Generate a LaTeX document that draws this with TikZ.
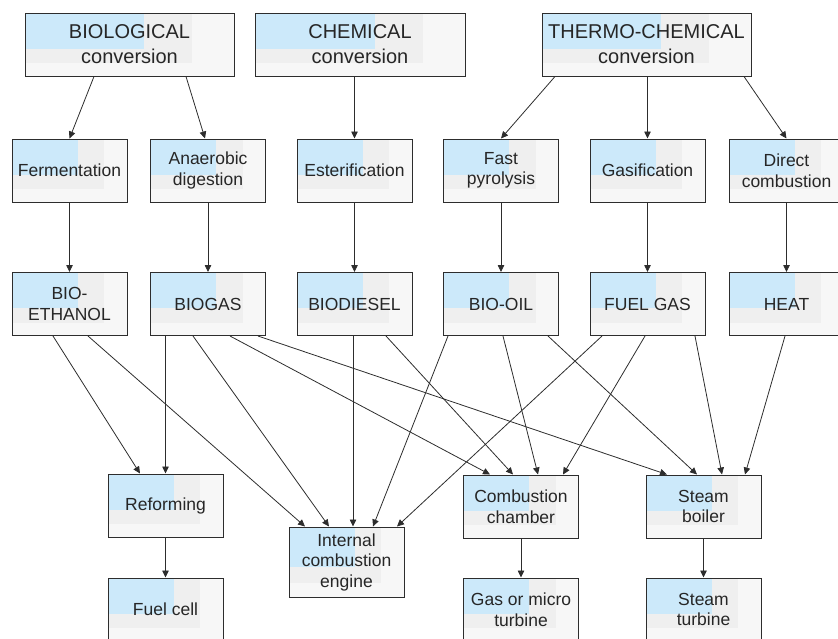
\documentclass[tikz,border=0pt]{standalone}
\usepackage{fontspec}
\setmainfont{Liberation Sans}
\usepackage{tikz}
\usepackage{xcolor}
\usetikzlibrary{arrows.meta,calc}

\definecolor{boxblue}{RGB}{204,233,250}
\definecolor{boxgray}{RGB}{247,247,247}
\definecolor{boxband}{RGB}{239,239,239}
\definecolor{linegray}{RGB}{45,45,45}

\begin{document}
\begin{tikzpicture} [x=1pt, y=-1pt, >={Triangle[length=7pt,width=6.5pt]},
    main/.style = {draw=linegray, line width=1pt, fill=boxgray, text=black!85,
        minimum width=115pt, minimum height=63pt, inner sep=0pt, align=center,
        font=\fontsize{17.5}{20.5}\selectfont,
        path picture={
            \fill[boxband] (path picture bounding box.north west) rectangle
                ($(path picture bounding box.north west)!0.8!(path picture bounding box.south east)$);
            \fill[boxblue] (path picture bounding box.north west) rectangle
                ($(path picture bounding box.north west)!0.57!(path picture bounding box.south east)$);
        }},
    top/.style = {main, minimum width=209pt, font=\fontsize{20}{25}\selectfont},
    conn/.style = {->, draw=linegray, line width=0.8pt}]
    \useasboundingbox (0,0) rectangle (838,638);

    % conversion routes
    \node[top] (bio) at (129.5,44.5) {BIOLOGICAL\\conversion};
    \node[top, minimum width=210pt] (chem) at (360,44.5) {CHEMICAL\\conversion};
    \node[top] (thermo) at (646.5,44.5) {THERMO-CHEMICAL\\conversion};

    % processes
    \node[main] (ferm) at (69.5,170.5) {Fermentation};
    \node[main] (anae) at (208,170.5) {Anaerobic\\digestion};
    \node[main] (ester) at (354.5,170.5) {Esterification};
    \node[main] (pyro) at (501,170.5) {Fast\\pyrolysis};
    \node[main] (gasif) at (647.5,170.5) {Gasification};
    \node[main] (direct) at (786.5,170.5) {Direct\\combustion};

    % products
    \node[main] (ethanol) at (69.5,304) {BIO-\\ETHANOL};
    \node[main] (biogas) at (208,304) {BIOGAS};
    \node[main] (diesel) at (354.5,304) {BIODIESEL};
    \node[main] (oil) at (501,304) {BIO-OIL};
    \node[main] (fuelgas) at (647.5,304) {FUEL GAS};
    \node[main] (heat) at (786.5,304) {HEAT};

    % end uses
    \node[main] (reform) at (165.5,505.5) {Reforming};
    \node[main, minimum height=70pt] (ice) at (346.5,562) {Internal\\combustion\\engine};
    \node[main] (cc) at (521,506.5) {Combustion\\chamber};
    \node[main] (sb) at (703.5,506.5) {Steam\\boiler};
    \node[main] (fuelcell) at (165.5,609.5) {Fuel cell};
    \node[main] (gt) at (521,609.5) {Gas or micro\\turbine};
    \node[main] (st) at (703.5,609.5) {Steam\\turbine};

    \draw[conn] ([xshift=-35.5pt]bio.south) -- (ferm.north);
    \draw[conn] ([xshift=56.5pt]bio.south) -- ([xshift=-3pt]anae.north);
    \draw[conn] (ester.north |- chem.south) -- (ester.north);
    \draw[conn] ([xshift=-91.5pt]thermo.south) -- (pyro.north);
    \draw[conn] (gasif.north |- thermo.south) -- (gasif.north);
    \draw[conn] ([xshift=97.5pt]thermo.south) -- (direct.north);

    \draw[conn] (ferm) -- (ethanol);
    \draw[conn] (anae) -- (biogas);
    \draw[conn] (ester) -- (diesel);
    \draw[conn] (pyro) -- (oil);
    \draw[conn] (gasif) -- (fuelgas);
    \draw[conn] (direct) -- (heat);

    \draw[conn] ([xshift=-16.5pt]ethanol.south) -- ([xshift=-25.5pt]reform.north);
    \draw[conn] ([xshift=18.5pt]ethanol.south) -- ([xshift=-41.5pt]ice.north);
    \draw[conn] (reform.north |- biogas.south) -- (reform.north);
    \draw[conn] ([xshift=-15pt]biogas.south) -- ([xshift=-17.5pt]ice.north);
    \draw[conn] ([xshift=22pt]biogas.south) -- ([xshift=-31pt]cc.north);
    \draw[conn] ([xshift=50pt]biogas.south) -- ([xshift=-36.5pt]sb.north);
    \draw[conn] ([xshift=-1.5pt]diesel.south) -- ([xshift=6.5pt]ice.north);
    \draw[conn] ([xshift=31.5pt]diesel.south) -- ([xshift=-8pt]cc.north);
    \draw[conn] ([xshift=-53pt]oil.south) -- ([xshift=26.5pt]ice.north);
    \draw[conn] ([xshift=2pt]oil.south) -- ([xshift=17pt]cc.north);
    \draw[conn] ([xshift=47pt]oil.south) -- ([xshift=-6.5pt]sb.north);
    \draw[conn] ([xshift=-45.5pt]fuelgas.south) -- ([xshift=50.5pt]ice.north);
    \draw[conn] ([xshift=-2.5pt]fuelgas.south) -- ([xshift=42pt]cc.north);
    \draw[conn] ([xshift=47.5pt]fuelgas.south) -- ([xshift=18.5pt]sb.north);
    \draw[conn] ([xshift=-1.5pt]heat.south) -- ([xshift=41.5pt]sb.north);

    \draw[conn] (reform) -- (fuelcell);
    \draw[conn] (cc) -- (gt);
    \draw[conn] (sb) -- (st);

  \end{tikzpicture}
\end{document}
